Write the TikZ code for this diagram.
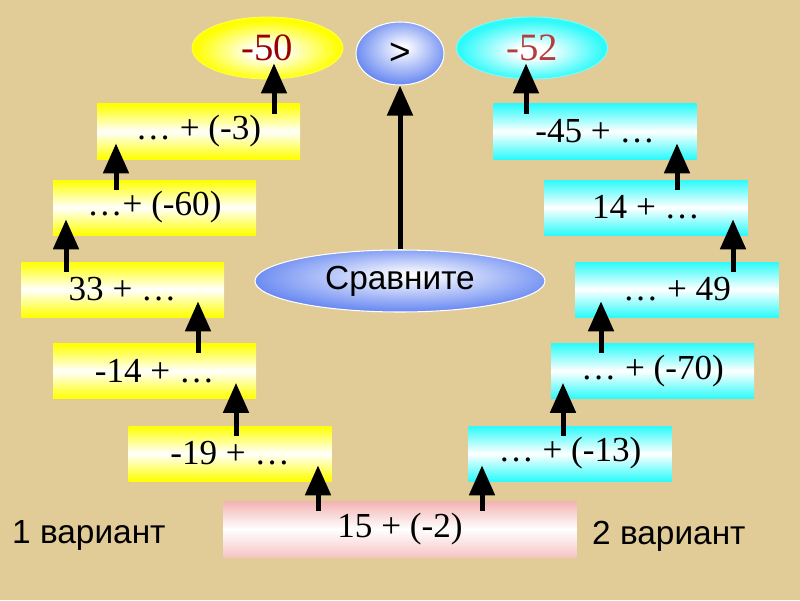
\documentclass[tikz,border=0pt]{standalone}
\usepackage{fontspec}
\setmainfont{Liberation Serif}
\newfontfamily\labelfont{Liberation Sans}
\usetikzlibrary{
  arrows.meta,
  calc,
  shapes.geometric
}
\definecolor{sumPaper}{HTML}{E1CB97}
\definecolor{sumYellow}{HTML}{FFFF00}
\definecolor{sumCyan}{HTML}{2EFAFA}
\definecolor{sumPink}{HTML}{F3B2B2}
\definecolor{sumBlue}{HTML}{587CF0}
\definecolor{sumRed}{HTML}{990000}
\definecolor{sumRedLight}{HTML}{B23E3E}
\pgfdeclareradialshading{yellowglow}{\pgfpoint{0bp}{-3bp}}{color(0bp)=(white);
  color(5bp)=(white); color(24bp)=(sumYellow); color(60bp)=(sumYellow)}
\pgfdeclareradialshading{cyanglow}{\pgfpoint{0bp}{-3bp}}{color(0bp)=(white);
  color(5bp)=(white); color(24bp)=(sumCyan); color(60bp)=(sumCyan)}
\pgfdeclareradialshading{blueglow}{\pgfpoint{2bp}{5bp}}{color(0bp)=(white);
  color(3bp)=(sumBlue!6!white); color(30bp)=(sumBlue); color(60bp)=(sumBlue)}

\begin{document}
\begin{tikzpicture}[x=1cm,y=1cm,
  sumbox/.style={rectangle, inner sep=0pt, minimum width=4.06cm,
    minimum height=1.1cm, font=\fontsize{20}{24}\selectfont},
  yellowbox/.style={sumbox, top color=sumYellow, bottom color=sumYellow,
    middle color=white},
  cyanbox/.style={sumbox, top color=sumCyan, bottom color=sumCyan,
    middle color=white},
  oval/.style={ellipse, inner sep=0pt, minimum width=3.02cm,
    minimum height=1.24cm, font=\fontsize{22}{26}\selectfont},
  blueoval/.style={oval, draw=white, line width=0.6pt, shading=blueglow,
    font=\labelfont\fontsize{19}{23}\selectfont},
  variant/.style={anchor=west, font=\labelfont\fontsize{19}{23}\selectfont},
  lift/.style={line width=0.1cm, -{Triangle[width=0.5cm,length=0.6cm]}}]
  \useasboundingbox (0,0) rectangle (16,12);
  \fill[sumPaper] (0,0) rectangle (16,12);

  % starting sum
  \node[sumbox, minimum width=7.06cm, minimum height=1.12cm,
    top color=sumPink, bottom color=sumPink!75!white, middle color=white]
    (P) at (8,1.42) {15 + (-2)};

  % 1 variant
  \node[yellowbox] (L5) at (4.6,2.93) {-19 + \dots};
  \node[yellowbox] (L4) at (3.09,4.58) {-14 + \dots};
  \node[yellowbox] (L3) at (2.45,6.21) {33 + \dots};
  \node[yellowbox] (L2) at (3.09,7.85) {\dots+ (-60)};
  \node[yellowbox] (L1) at (3.97,9.37) {\dots{} + (-3)};

  % 2 variant
  \node[cyanbox] (R5) at (11.4,2.93) {\dots{} + (-13)};
  \node[cyanbox] (R4) at (13.05,4.58) {\dots{} + (-70)};
  \node[cyanbox] (R3) at (13.54,6.21) {\dots{} + 49};
  \node[cyanbox] (R2) at (12.92,7.85) {14 + \dots};
  \node[cyanbox] (R1) at (11.9,9.37) {-45 + \dots};

  \node[oval, draw=sumYellow!70!white, line width=0.5pt, shading=yellowglow,
    text=sumRed] (m50) at (5.35,11.04) {-50};
  \node[oval, draw=sumCyan!60!white, line width=0.5pt, shading=cyanglow,
    text=sumRedLight] (m52) at (10.64,11.04) {-52};
  \node[blueoval, minimum width=1.76cm, minimum height=1.26cm,
    font=\labelfont\fontsize{21}{25}\selectfont] (gt) at (8,10.93) {>};
  \node[blueoval, minimum width=5.8cm] (cmp) at (8,6.38) {Сравните};

  \foreach \s/\t/\x in {P/L5/6.36, L5/L4/4.72, L4/L3/3.96, L3/L2/1.32,
    L2/L1/2.32, L1/m50/5.48, P/R5/9.64, R5/R4/11.26, R4/R3/12.02,
    R3/R2/14.66, R2/R1/13.54, R1/m52/10.52}
    \draw[lift] ($(\s.north -| \x,0)+(0,-0.2)$) -- ($(\t.south -| \x,0)+(0,0.32)$);
  \draw[lift] (cmp.north) -- (gt.south);

  \node[variant] (v1) at (0.12,1.3) {1 вариант};
  \node[variant] (v2) at (11.72,1.28) {2 вариант};
\end{tikzpicture}
\end{document}
